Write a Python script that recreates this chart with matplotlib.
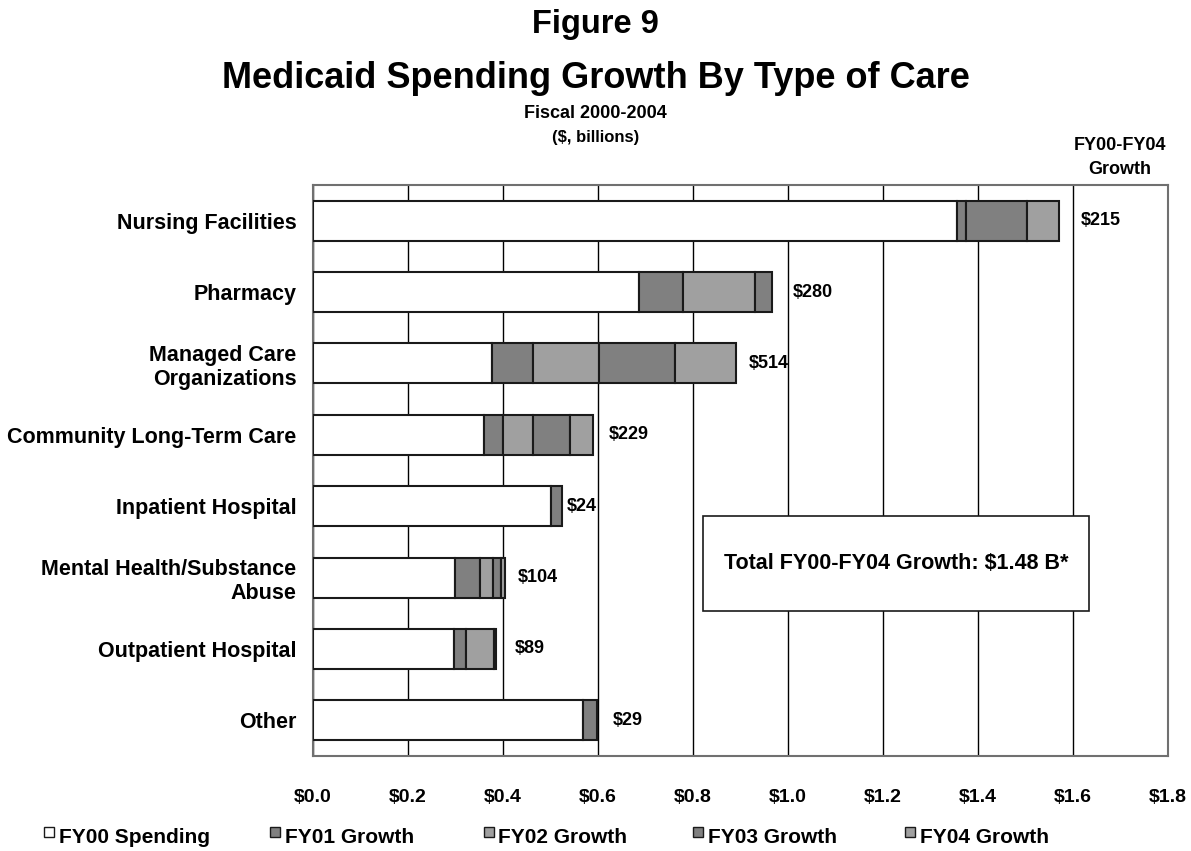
import numpy as np
import matplotlib.pyplot as plt
from matplotlib.patches import Rectangle

plt.rcParams['font.family'] = ['Liberation Sans', 'DejaVu Sans']
plt.rcParams['font.weight'] = 'bold'

# Medicaid spending by type of care ($ billions)
categories = ["Nursing Facilities", "Pharmacy", "Managed Care\nOrganizations",
              "Community Long-Term Care", "Inpatient Hospital",
              "Mental Health/Substance\nAbuse", "Outpatient Hospital", "Other"]
fy00 = np.array([1.355, 0.687, 0.377, 0.361, 0.500, 0.300, 0.297, 0.568])
fy01 = np.array([0.020, 0.091, 0.086, 0.039, 0.024, 0.051, 0.025, 0.029])
fy02 = np.array([0.000, 0.152, 0.139, 0.064, 0.000, 0.027, 0.060, 0.000])
fy03 = np.array([0.129, 0.037, 0.161, 0.076, 0.000, 0.017, 0.004, 0.000])
fy04 = np.array([0.066, 0.000, 0.128, 0.050, 0.000, 0.009, 0.000, 0.000])

series = [fy00, fy01, fy02, fy03, fy04]
series_names = ["FY00 Spending", "FY01 Growth", "FY02 Growth", "FY03 Growth", "FY04 Growth"]
colors = ["white", "#808080", "#a0a0a0", "#808080", "#a0a0a0"]

# label offsets (points) to the right of each bar
label_offsets = [16, 15, 9, 11.5, 3.5, 9.5, 13, 11.5]
# legend entry positions in figure fraction
legend_x = [0.037, 0.227, 0.406, 0.582, 0.760]

growth = fy01 + fy02 + fy03 + fy04
total_growth = growth.sum()

fig = plt.figure(figsize=(11.91, 8.51), dpi=100)
ax = fig.add_axes([0.2628, 0.1116, 0.7179, 0.671])

y = np.arange(len(categories))
left = np.zeros(len(categories))
for vals, col in zip(series, colors):
    keep = vals > 0
    ax.barh(y[keep], vals[keep], left=left[keep], height=0.56, color=col,
            edgecolor="#1a1a1a", linewidth=1.5, zorder=3)
    left = left + vals

# growth labels in $ millions
for yi, end, g, off in zip(y, left, growth, label_offsets):
    ax.annotate(f"${round(g * 1000):d}", (end, yi), xytext=(off, 0),
                textcoords="offset points", va="center", ha="left",
                fontsize=13, fontweight="bold")

ax.set_xlim(0, 1.8)
ax.set_ylim(len(categories) - 0.5, -0.5)
ax.set_xticks(np.arange(0, 1.81, 0.2))
ax.set_xticklabels([f"${v:.1f}" for v in np.arange(0, 1.81, 0.2)], fontsize=14,
                   fontweight="bold")
ax.set_yticks(y)
ax.set_yticklabels(categories, fontsize=15.5, fontweight="bold")
ax.tick_params(axis="x", length=0, pad=24)
ax.tick_params(axis="y", length=0, pad=12)
ax.xaxis.grid(True, color="black", linewidth=1.0, zorder=0)
ax.set_axisbelow(True)
for sp in ax.spines.values():
    sp.set_color("#707070")
    sp.set_linewidth(1.5)

# total growth box
ax.add_patch(Rectangle((0.456, 0.254), 0.452, 0.166, transform=ax.transAxes,
                       facecolor="white", edgecolor="#1a1a1a", linewidth=1.2,
                       zorder=4))
ax.text(0.682, 0.337, f"Total FY00-FY04 Growth: ${total_growth:.2f} B*",
        transform=ax.transAxes, ha="center", va="center", fontsize=15.5,
        fontweight="bold", zorder=5)

# titles
fig.text(0.5, 0.971, "Figure 9", ha="center", va="center", fontsize=23.5, fontweight="bold")
fig.text(0.5, 0.908, "Medicaid Spending Growth By Type of Care", ha="center",
         va="center", fontsize=26, fontweight="bold")
fig.text(0.5, 0.867, "Fiscal 2000-2004", ha="center", va="center", fontsize=13,
         fontweight="bold")
fig.text(0.5, 0.839, "($, billions)", ha="center", va="center", fontsize=12,
         fontweight="bold")
fig.text(0.940, 0.815, "FY00-FY04\nGrowth", ha="center", va="center", fontsize=13,
         fontweight="bold", linespacing=1.5)

# legend: small swatch followed by the series name
sw_w, sw_h = 10 / 1191, 10 / 851
for xl, name, col in zip(legend_x, series_names, colors):
    fig.patches.append(Rectangle((xl, 0.0168), sw_w, sw_h, transform=fig.transFigure,
                                 facecolor=col, edgecolor="#1a1a1a", linewidth=1.0))
    fig.text(xl + sw_w + 0.004, 0.0155, name, ha="left", va="center", fontsize=15,
             fontweight="bold")

plt.savefig("out.png", dpi=100)
